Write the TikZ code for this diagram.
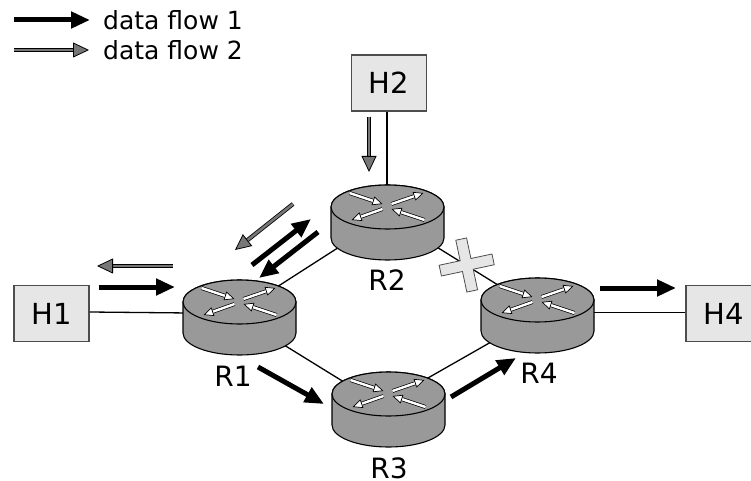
\documentclass[tikz,border=0pt]{standalone}
\usepackage{xcolor}
\usepackage{fontspec}
\setmainfont{DejaVu Sans}
\usetikzlibrary{arrows.meta}
\definecolor{cbody}{HTML}{999999}
\definecolor{cbox}{HTML}{E6E6E6}
\definecolor{cedge}{HTML}{4D4D4D}
\definecolor{cflow}{HTML}{777777}
\tikzset{
    hostbox/.style={rectangle, draw=cedge, fill=cbox, line width=1.1pt, minimum width=75pt, minimum height=56pt, inner sep=0pt, font=\fontsize{29}{33}\selectfont},
    routerbox/.style={rectangle, minimum width=113pt, minimum height=75pt, inner sep=0pt},
    routername/.style={inner sep=0pt, font=\fontsize{28}{32}\selectfont},
    legendtext/.style={anchor=west, inner sep=0pt, font=\fontsize{25}{29}\selectfont},
    link/.style={draw=black, line width=1.3pt},
    flowone/.style={draw=black, line width=5pt, -{Triangle[length=19pt, width=16pt]}},
    flowtwo/.style={draw=black, line width=.8pt, double=cflow, double distance=2.6pt, -{Triangle[length=16pt, width=15pt, fill=cflow]}},
    minior/.style={draw=black, line width=.7pt, double=white, double distance=2.4pt, -{Triangle[length=10pt, width=9pt, fill=white]}}
}
\begin{document}
\begin{tikzpicture}[x=1pt, y=1pt]
    \useasboundingbox (0,0) rectangle (751,-481);
    % hosts and routers
    \node (h1) [hostbox] at (51.5,-313.5) {H1};
    \node (h2) [hostbox] at (389,-83) {H2};
    \node (h4) [hostbox] at (723.5,-313.5) {H4};
    \foreach \n/\x/\y in {r1/239.5/-317.5, r2/387.5/-222.5, r3/388.5/-409.5, r4/537.5/-315.5}
        \node (\n) [routerbox] at (\x,\y) {};
    % links go under the routers
    \draw[link] (h1.east |- 0,-312) -- (h1.east -| r1.center |- 0,-312) coordinate (l1);
    \draw[link] (h2.south -| 387,0) -- (r2.north -| 387,0);
    \draw[link] (r4.center |- 0,-312.5) -- (h4.west |- 0,-312.5);
    \draw[link] ([yshift=6.5pt]r1.center) -- ([yshift=6.5pt]r2.center);
    \draw[link] ([yshift=6pt]r2.center) -- ([yshift=6pt]r4.center);
    \draw[link] (r1.center) -- (r3.center);
    \draw[link] ([yshift=9pt]r3.center) -- (r4.center);
    \foreach \n in {r1,r2,r3,r4} {
        \begin{scope}[shift={(\n.center)}]
            \draw[fill=cbody, line width=1.1pt] (-56.5,15.5) -- (-56.5,-15.5) arc[start angle=180, end angle=360, x radius=56.5, y radius=22] -- (56.5,15.5) arc[start angle=0, end angle=180, x radius=56.5, y radius=22] -- cycle;
            \draw[fill=cbody, line width=1.1pt] (0,15.5) ellipse[x radius=56.5, y radius=22];
            \draw[minior] (-38,29.5) -- (-5,18.5);
            \draw[minior] (37,2.5) -- (4,13.5);
            \draw[minior] (4,18.5) -- (36,29.5);
            \draw[minior] (-5,13.5) -- (-36,2.5);
        \end{scope}
    }
    \node (n1) [routername] at (233,-376) {R1};
    \node (n2) [routername] at (387,-280) {R2};
    \node (n3) [routername] at (389,-468) {R3};
    \node (n4) [routername] at (539,-373) {R4};
    % broken link
    \begin{scope}[shift={(466.7,-265)}, rotate=12]
        \draw[fill=cbox, draw=cedge, line width=.8pt] (-5.5,26.5) -- (5.5,26.5) -- (5.5,5.5) -- (27,5.5) -- (27,-5.5) -- (5.5,-5.5) -- (5.5,-26.5) -- (-5.5,-26.5) -- (-5.5,-5.5) -- (-27,-5.5) -- (-27,5.5) -- (-5.5,5.5) -- cycle;
    \end{scope}
    % flows
    \foreach \n/\x/\y in {la/14/-20, lb/90/-20, ma/14/-50, mb/89/-50, ta/99/-287, tb/175/-287, ua/173/-266, ub/97/-266, va/369/-117, vb/369/-172, wa/293/-204, wb/235/-250, xa/252/-265, xb/311/-219, ya/318/-232, yb/259/-278, za/258/-367, zb/324/-404, pa/451/-397, pb/516/-358, qa/600/-288, qb/676/-288}
        \coordinate (\n) at (\x,\y);
    \foreach \a/\b in {la/lb, ta/tb, xa/xb, ya/yb, za/zb, pa/pb, qa/qb}
        \draw[flowone] (\a) -- (\b);
    \foreach \a/\b in {ma/mb, ua/ub, va/vb, wa/wb}
        \draw[flowtwo] (\a) -- (\b);
    \node (t1) [legendtext] at (103,-20) {data flow 1};
    \node (t2) [legendtext] at (103,-50) {data flow 2};
\end{tikzpicture}
\end{document}
